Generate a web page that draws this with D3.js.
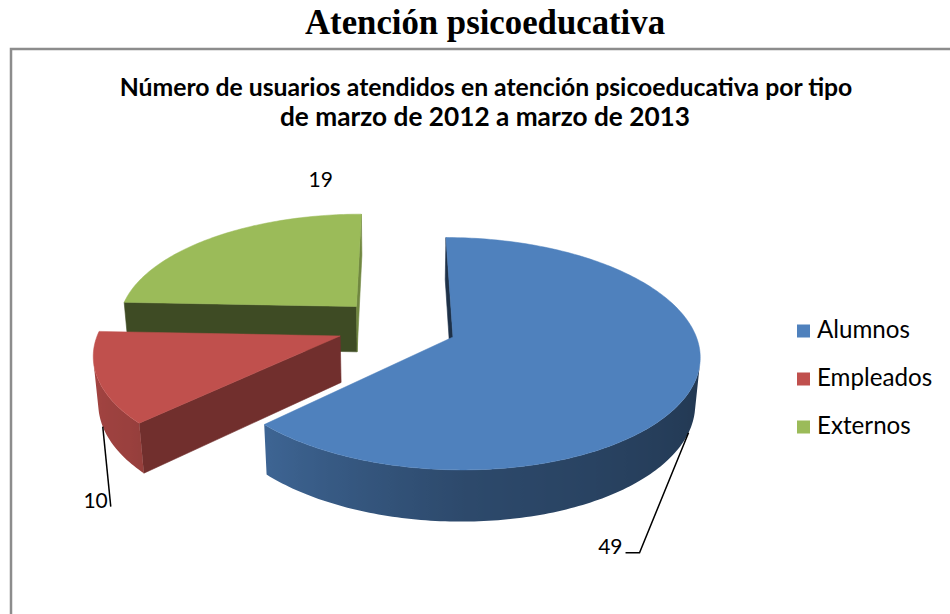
<!DOCTYPE html>
<html><head><meta charset="utf-8">
<script src="https://cdn.jsdelivr.net/npm/d3@7"></script>
<style>body{margin:0;background:#fff}</style>
</head><body><svg id="c" width="950" height="614"></svg>
<script>
const categories = ["Alumnos","Empleados","Externos"];
const values = [49,10,19];
const colors = ["#4F81BD","#C0504D","#9BBB59"];
const pageTitle = "Atención psicoeducativa";
const chartTitle = ["Número de usuarios atendidos en atención psicoeducativa por tipo","de marzo de 2012 a marzo de 2013"];

const svg = d3.select("#c");
const defs = svg.append("defs");
const SANS = "Lato, 'Open Sans', sans-serif";

function fitText(sel, targetW){
  const w = sel.node().getComputedTextLength();
  const fs = parseFloat(sel.attr("font-size"));
  sel.attr("font-size", (fs*targetW/w).toFixed(2));
}

// outer frame of the chart
svg.append("rect").attr("x",11).attr("y",49).attr("width",1000).attr("height",700)
  .attr("fill","none").attr("stroke","#8c8c8c").attr("stroke-width",2.5);

svg.append("text").attr("x",485).attr("y",34).attr("text-anchor","middle")
  .attr("font-family","'Liberation Serif', serif").attr("font-weight","bold").attr("font-size",28)
  .attr("fill","#000").text(pageTitle).call(s=>fitText(s,360));

svg.append("text").attr("x",486).attr("y",96).attr("text-anchor","middle")
  .attr("font-family",SANS).attr("font-weight","bold").attr("font-size",21)
  .attr("fill","#000").text(chartTitle[0]).call(s=>fitText(s,733));
svg.append("text").attr("x",485).attr("y",126).attr("text-anchor","middle")
  .attr("font-family",SANS).attr("font-weight","bold").attr("font-size",21)
  .attr("fill","#000").text(chartTitle[1]).call(s=>fitText(s,410));

// ---- 3D pie geometry ----
const P = {cx:397, cy:326, A:240, sinA:0.461, cosA:0.887, cp:0.16, t:0.22, e:0.25};
function proj(X,Y,Z){
  const yc = Y*P.cosA + Z*P.sinA, zc = -Y*P.sinA + Z*P.cosA, s = 1/(1+P.cp*zc);
  return [P.cx + P.A*X*s, P.cy - P.A*yc*s];
}
const cam = [0, P.sinA/P.cp, -P.cosA/P.cp];
function visible(n, p){ return n[0]*(cam[0]-p[0]) + n[1]*(cam[1]-p[1]) + n[2]*(cam[2]-p[2]) > 0; }

const bandShade = d3.scaleLinear().domain([0,90,180,230,270,360]).range([0.5,0.40,0.57,0.80,0.88,0.7]);
const flatShade = d3.scaleLinear().domain([0,90,136,182,270,360]).range([0.5,0.72,0.59,0.40,0.38,0.5]);
function shade(base,f){ const c=d3.rgb(base); return d3.rgb(c.r*f,c.g*f,c.b*f).formatHex(); }
const deg = a => ((a*180/Math.PI)%360+360)%360;

const arcs = d3.pie().sort(null).value(d=>d).startAngle(0).endAngle(2*Math.PI)(values);
const slices = arcs.map((a,i)=>{
  const mid = (a.startAngle+a.endAngle)/2;
  return {i, a0:a.startAngle, a1:a.endAngle, mid, ox:P.e*Math.sin(mid), oz:P.e*Math.cos(mid), color:colors[i]};
});
const line = d3.line();
const gPie = svg.append("g");
let gradId = 0;

slices.slice().sort((a,b)=>b.oz-a.oz).forEach(s=>{
  const g = gPie.append("g");
  const rimPt = (th,Y)=>[s.ox+Math.sin(th), Y, s.oz+Math.cos(th)];
  const apex = Y=>[s.ox,Y,s.oz];
  const P2 = p=>proj(p[0],p[1],p[2]);
  const n = Math.ceil((s.a1-s.a0)/(Math.PI/180));
  const ths = d3.range(n+1).map(k=>s.a0+(s.a1-s.a0)*k/n);
  // radial faces
  const faces = [
    {th:s.a0, nrm:[-Math.cos(s.a0),0,Math.sin(s.a0)]},
    {th:s.a1, nrm:[Math.cos(s.a1),0,-Math.sin(s.a1)]}
  ];
  faces.forEach(f=>{
    const r = rimPt(f.th,0);
    const pc = [(s.ox+r[0])/2, -P.t/2, (s.oz+r[2])/2];
    if(!visible(f.nrm,pc)) return;
    const phi = deg(Math.atan2(f.nrm[0],f.nrm[2]));
    const col = shade(s.color, flatShade(phi));
    const pts = [apex(0), rimPt(f.th,0), rimPt(f.th,-P.t), apex(-P.t)].map(P2);
    g.append("path").attr("d",line(pts)+"Z").attr("fill",col).attr("stroke",col).attr("stroke-width",0.6);
  });
  // outer curved side: contiguous visible runs, each one path with a horizontal gradient
  const vis = d3.range(n).map(k=>{
    const tm=(ths[k]+ths[k+1])/2;
    return visible([Math.sin(tm),0,Math.cos(tm)], [s.ox+Math.sin(tm), -P.t/2, s.oz+Math.cos(tm)]);
  });
  const runs = [];
  let cur = null;
  vis.forEach((v,k)=>{ if(v){ if(!cur){cur=[k,k];runs.push(cur);} else cur[1]=k; } else cur=null; });
  runs.forEach(([k0,k1])=>{
    const tt = ths.slice(k0,k1+2);
    const topP = tt.map(th=>P2(rimPt(th,0)));
    const botP = tt.map(th=>P2(rimPt(th,-P.t))).reverse();
    const xs = topP.map(p=>p[0]);
    const x1 = d3.min(xs), x2 = d3.max(xs);
    const id = "bg"+(gradId++);
    const gr = defs.append("linearGradient").attr("id",id).attr("gradientUnits","userSpaceOnUse")
      .attr("x1",x1).attr("x2",x2).attr("y1",0).attr("y2",0);
    const stops = tt.map((th,j)=>({o:(topP[j][0]-x1)/Math.max(1e-6,x2-x1), c:shade(s.color,bandShade(deg(th)))}))
      .sort((a,b)=>a.o-b.o);
    stops.forEach(st=>gr.append("stop").attr("offset",st.o).attr("stop-color",st.c));
    g.append("path").attr("d",line(topP.concat(botP))+"Z").attr("fill",`url(#${id})`);
  });
  // top
  const topPts = [apex(0)].concat(ths.map(th=>rimPt(th,0))).map(P2);
  g.append("path").attr("d",line(topPts)+"Z").attr("fill",s.color).attr("stroke",s.color).attr("stroke-width",0.5);
});

// ---- data labels ----
const labelOff = [
  {dx:-49, dy:120, hx:-14, leader:true},
  {dx:8, dy:80, hx:0, leader:true},
  {dx:108, dy:-51, hx:0, leader:false}
];
const gLab = svg.append("g");
slices.forEach(s=>{
  const o = labelOff[s.i];
  if(o.leader){
    const st = proj(s.ox+Math.sin(s.mid), -P.t, s.oz+Math.cos(s.mid));
    const en = [st[0]+o.dx, st[1]+o.dy];
    const pts = [st, en, [en[0]+o.hx, en[1]]];
    gLab.append("path").attr("d",line(pts)).attr("fill","none").attr("stroke","#000").attr("stroke-width",1.5);
    gLab.append("text").attr("x",en[0]+o.hx-3).attr("y",en[1]+1).attr("text-anchor","end")
      .attr("font-family",SANS).attr("font-size",21).attr("fill","#000").text(values[s.i]);
  } else {
    const st = proj(s.ox+Math.sin(s.mid), 0, s.oz+Math.cos(s.mid));
    gLab.append("text").attr("x",st[0]+o.dx).attr("y",st[1]+o.dy).attr("text-anchor","middle")
      .attr("font-family",SANS).attr("font-size",21).attr("fill","#000").text(values[s.i]);
  }
});

// ---- legend ----
const yLeg = d3.scalePoint().domain(categories).range([331,427]);
const gLeg = svg.append("g");
categories.forEach((c,i)=>{
  gLeg.append("rect").attr("x",797).attr("y",yLeg(c)-6.5).attr("width",13).attr("height",13).attr("fill",colors[i]);
  const t = gLeg.append("text").attr("x",817).attr("y",yLeg(c)+7).attr("font-family",SANS)
    .attr("font-size",20).attr("fill","#000").text(c);
  if(i===0) t.call(s=>fitText(s,93));
});
const fsLeg = gLeg.select("text").attr("font-size");
gLeg.selectAll("text").attr("font-size",fsLeg);
</script></body></html>
